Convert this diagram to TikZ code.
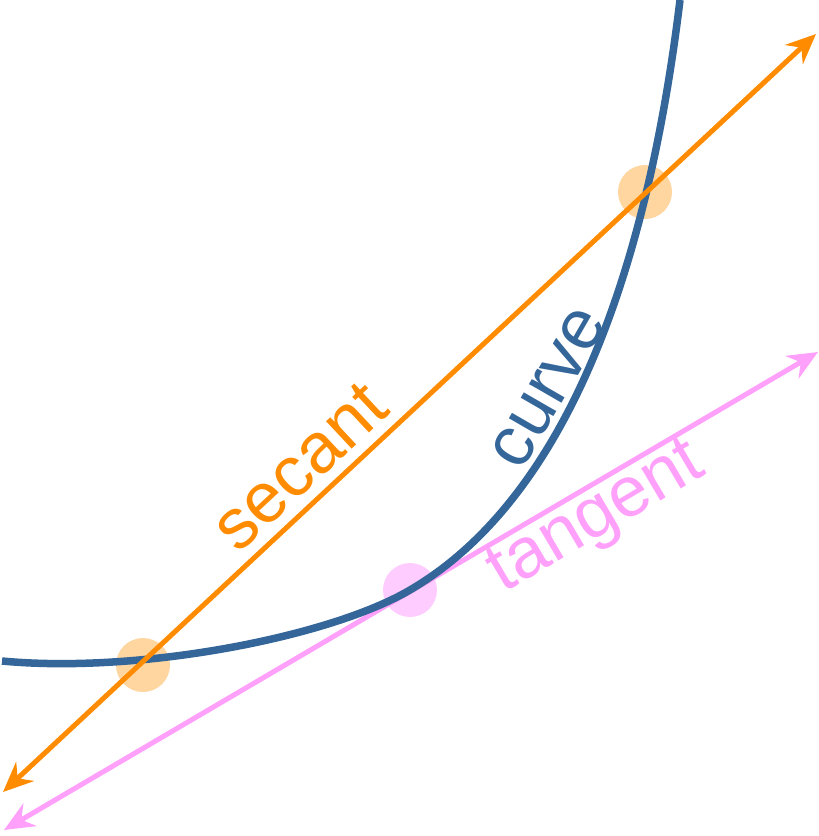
\documentclass[tikz,border=0pt]{standalone}
\usepackage{fontspec}
\setmainfont{Liberation Sans}
\usetikzlibrary{arrows.meta, positioning, calc}

\definecolor{curveblue}{RGB}{52,102,153}
\definecolor{secantorange}{RGB}{255,140,0}
\definecolor{tangentpink}{RGB}{255,160,250}
\definecolor{dotorange}{RGB}{255,214,160}
\definecolor{dotpink}{RGB}{255,204,255}

\tikzset{
  dot/.style={circle, fill=#1, inner sep=0pt, minimum size=54pt},
  tip/.style={{Stealth[length=30pt, width=26pt, inset=10pt]}-{Stealth[length=30pt, width=26pt, inset=10pt]}, line width=5pt},
  label/.style={font=\fontsize{71}{80}\selectfont, inner sep=0pt}
}

\begin{document}
\begin{tikzpicture}[x=1pt, y=-1pt]
  \useasboundingbox (0,0) rectangle (819,836);

  % Highlight dots
  \node[dot=dotorange] (p1) at (143,665) {};
  \node[dot=dotorange] (p2) at (645,192) {};
  \node[dot=dotpink] (t0) at (410,590) {};

  % Line ends
  \coordinate (s1) at (3,792);
  \coordinate (s2) at (816,34);
  \coordinate (t1) at (4,830);
  \coordinate (t2) at (818,352);

  % Pink tangent line
  \draw[tip, tangentpink] (t1) -- (t2);

  % Blue curve
  \draw[curveblue, line width=7.5pt] (2,661) .. controls (140,674) and (330,637) .. (t0.center)
    .. controls (540,514) and (640,330) .. (680,0);

  % Orange secant line
  \draw[tip, secantorange] (s1) -- (s2);

  % Labels
  \node[label, text=secantorange, rotate=43] (seclabel) at (300,467) {secant};
  \node[label, text=curveblue, rotate=60] (curvelabel) at (549,388) {curve};
  \node[label, text=tangentpink, rotate=30.5] (tanlabel) at (598,520) {tangent};
\end{tikzpicture}
\end{document}
